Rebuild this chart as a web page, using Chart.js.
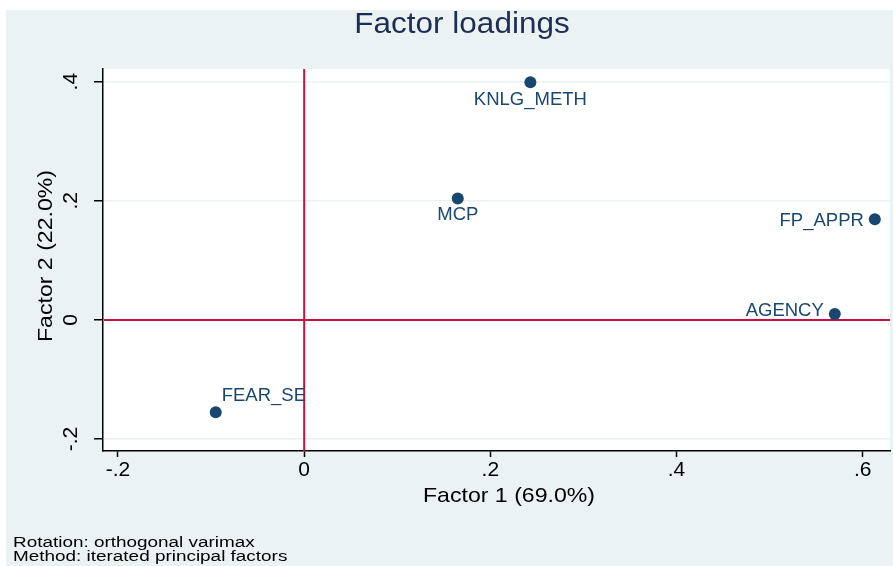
<!DOCTYPE html>
<html>
<head>
<meta charset="utf-8">
<script src="https://cdn.jsdelivr.net/npm/chart.js@4.4.1/dist/chart.umd.min.js"></script>
<style>
  body { margin: 0; background: #fff; }
  canvas { display: block; }
</style>
</head>
<body>
<canvas id="myChart" width="893" height="566"></canvas>
<script>
// data
const varNames = ['KNLG_METH', 'MCP', 'FP_APPR', 'AGENCY', 'FEAR_SE'];
const factor1 = [0.243, 0.165, 0.613, 0.570, -0.095];
const factor2 = [0.399, 0.204, 0.169, 0.010, -0.155];
const xTicks = [-0.2, 0, 0.2, 0.4, 0.6];
const yTicks = [-0.2, 0, 0.2, 0.4];

const chartTitle = 'Factor loadings';
const xTitle = 'Factor 1 (69.0%)';
const yTitle = 'Factor 2 (22.0%)';
const notes = ['Rotation: orthogonal varimax', 'Method: iterated principal factors'];

// where each marker label sits (like stata mlabposition)
const labelPlace = {
    KNLG_METH: { dx: 0, dy: 18, align: 'center' },
    MCP: { dx: 0, dy: 17, align: 'center' },
    FP_APPR: { dx: -11, dy: 1.5, align: 'right' },
    AGENCY: { dx: -11, dy: -3, align: 'right' },
    FEAR_SE: { dx: 6, dy: -16, align: 'left' }
};

const navy = '#1a476f';
const bgColor = '#eaf2f3';
const refRed = '#c8103c';
const FONT = '"Liberation Sans", Arial, sans-serif';

const fmt = v => {
    if (Math.abs(v) < 1e-9) return '0';
    return (v < 0 ? '-' : '') + Math.abs(v).toFixed(1).replace(/^0/, '');
};

// text with a little horizontal stretch, stata exports look wide
function txt(ctx, s, x, y, size, color, align, sx, rot) {
    ctx.save();
    ctx.translate(x, y);
    if (rot) ctx.rotate(rot);
    ctx.scale(sx || 1, 1);
    ctx.font = size + 'px ' + FONT;
    ctx.fillStyle = color;
    ctx.textAlign = align || 'center';
    ctx.textBaseline = 'middle';
    ctx.fillText(s, 0, 0);
    ctx.restore();
}

const stataPlugin = {
    id: 'stata',
    beforeDraw(chart) {
        const ctx = chart.ctx, a = chart.chartArea;
        ctx.save();
        ctx.fillStyle = '#fff';
        ctx.fillRect(0, 0, chart.width, chart.height);
        ctx.fillStyle = bgColor;
        ctx.fillRect(6, 10, chart.width - 6, chart.height - 10);
        ctx.fillStyle = '#fff';
        ctx.fillRect(a.left, a.top, a.right - a.left, a.bottom - a.top);
        ctx.restore();
    },
    beforeDatasetsDraw(chart) {
        const ctx = chart.ctx, a = chart.chartArea;
        const x0 = chart.scales.x.getPixelForValue(0);
        const y0 = chart.scales.y.getPixelForValue(0);
        ctx.save();
        ctx.strokeStyle = refRed;
        ctx.lineWidth = 2;
        ctx.beginPath();
        ctx.moveTo(x0, a.top);
        ctx.lineTo(x0, a.bottom);
        ctx.moveTo(a.left + 1, y0);
        ctx.lineTo(a.right, y0);
        ctx.stroke();
        ctx.restore();
    },
    afterDraw(chart) {
        const ctx = chart.ctx;
        const sx = chart.scales.x, sy = chart.scales.y;

        // marker labels
        varNames.forEach((n, i) => {
            const p = labelPlace[n];
            const px = sx.getPixelForValue(factor1[i]);
            const py = sy.getPixelForValue(factor2[i]);
            txt(ctx, n, px + p.dx, py + p.dy, 18.5, navy, p.align, 1);
        });

        // tick labels
        xTicks.forEach(v => {
            txt(ctx, fmt(v), sx.getPixelForValue(v), 470, 20, '#000', 'center', 1.05);
        });
        yTicks.forEach(v => {
            txt(ctx, fmt(v), 71, sy.getPixelForValue(v), 20, '#000', 'center', 1.05, -Math.PI / 2);
        });

        // titles
        txt(ctx, chartTitle, 462, 25, 30, '#1e2d53', 'center', 1.05);
        txt(ctx, xTitle, 509, 496, 21, '#000', 'center', 1.1);
        txt(ctx, yTitle, 46, 256, 21, '#000', 'center', 1.1, -Math.PI / 2);

        // notes at bottom left
        ctx.save();
        ctx.font = '15.5px ' + FONT;
        ctx.fillStyle = '#000';
        ctx.textBaseline = 'alphabetic';
        notes.forEach((s, i) => {
            ctx.save();
            ctx.translate(13, 547 + i * 14);
            ctx.scale(1.22, 1);
            ctx.fillText(s, 0, 0);
            ctx.restore();
        });
        ctx.restore();
    }
};

const ctx = document.getElementById('myChart').getContext('2d');
const myChart = new Chart(ctx, {
    type: 'scatter',
    data: {
        datasets: [{
            label: 'loadings',
            data: varNames.map((n, i) => ({ x: factor1[i], y: factor2[i] })),
            backgroundColor: navy,
            borderWidth: 0,
            pointRadius: 6,
            pointHoverRadius: 6
        }]
    },
    options: {
        responsive: false,
        animation: false,
        devicePixelRatio: 1,
        layout: { autoPadding: false, padding: { top: 69, right: 3, left: 0, bottom: 0 } },
        plugins: {
            legend: { display: false },
            title: { display: false },
            tooltip: { enabled: false }
        },
        scales: {
            x: {
                type: 'linear',
                min: -0.2161,
                max: 0.6293,
                afterBuildTicks: s => { s.ticks = xTicks.map(v => ({ value: v })); },
                afterFit: s => { s.height = 115; s.paddingRight = 0; s.paddingLeft = 0; },
                ticks: { display: false },
                grid: {
                    drawOnChartArea: false,
                    drawTicks: true,
                    tickLength: 6,
                    tickColor: '#000',
                    tickWidth: 1.5
                },
                border: { display: true, color: '#000', width: 1.5 }
            },
            y: {
                type: 'linear',
                min: -0.2202,
                max: 0.4213,
                afterBuildTicks: s => { s.ticks = yTicks.map(v => ({ value: v })); },
                afterFit: s => { s.width = 103; s.paddingTop = 0; s.paddingBottom = 0; },
                ticks: { display: false },
                grid: {
                    drawOnChartArea: true,
                    color: bgColor,
                    lineWidth: 1.5,
                    drawTicks: true,
                    tickLength: 9,
                    tickColor: '#000',
                    tickWidth: 1.5
                },
                border: { display: true, color: '#000', width: 1.5 }
            }
        }
    },
    plugins: [stataPlugin]
});
</script>
</body>
</html>
